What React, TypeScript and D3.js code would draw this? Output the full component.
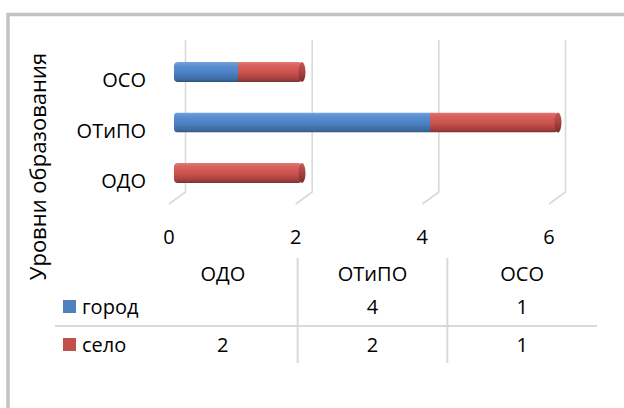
import React from "react";
import * as d3 from "d3";

// Education levels, as listed in the data table (left to right)
const categories = ["ОДО", "ОТиПО", "ОСО"];
// Order of the bars from top to bottom
const barOrder = ["ОСО", "ОТиПО", "ОДО"];
const seriesNames = ["город", "село"];
const cityValues: (number | null)[] = [null, 4, 1];
const villageValues: (number | null)[] = [2, 2, 1];
const xTicks = [0, 2, 4, 6];
const axisTitle = "Уровни образования";

const W = 624;
const H = 408;
const FONT = "'Open Sans', 'Noto Sans', sans-serif";
const GRID = "#d9d9d9";

const seriesColors = {
  город: { base: "#4f81bd", stops: ["#74a4e0", "#5b90d3", "#4b80c4", "#3d6a9f", "#2e5380"] },
  село: { base: "#c0504d", stops: ["#e27874", "#d8625e", "#cb514d", "#9e3e3c", "#7c2f2e"] },
} as Record<string, { base: string; stops: string[] }>;

export default function App() {
  // bar value scale, and the front/back edges of the 3D floor for gridlines
  const xBar = d3.scaleLinear().domain([0, 6]).range([174, 558]);
  const xFront = d3.scaleLinear().domain([0, 6]).range([169, 549]);
  const depthX = 16.5;
  const gridTop = 40;
  const gridBottom = 192;
  const floorY = 204;

  const yBar = d3.scalePoint<string>().domain(barOrder).range([72, 173]);
  const barH = 20;

  const col = d3.scaleBand<string>().domain(categories).range([148, 597]);

  const rows = seriesNames.map((name, si) => ({
    name,
    values: si === 0 ? cityValues : villageValues,
  }));

  const stacks = categories.map((c, ci) => {
    let acc = 0;
    const segs = rows
      .map((r) => {
        const v = r.values[ci];
        if (v == null || v === 0) return null;
        const s = { name: r.name, x0: acc, x1: acc + v };
        acc += v;
        return s;
      })
      .filter(Boolean) as { name: string; x0: number; x1: number }[];
    return { cat: c, segs, total: acc };
  });

  const stopOffsets = [0, 0.18, 0.55, 0.88, 1];

  return (
    <svg
      width={W}
      height={H}
      viewBox={`0 0 ${W} ${H}`}
      style={{ position: "absolute", left: 0, top: 0, background: "#fff" }}
      fontFamily={FONT}
    >
      <defs>
        {seriesNames.map((n, i) => (
          <linearGradient key={n} id={`grad-${i}`} x1="0" y1="0" x2="0" y2="1">
            {seriesColors[n].stops.map((c, k) => (
              <stop key={k} offset={stopOffsets[k]} stopColor={c} />
            ))}
          </linearGradient>
        ))}
        <linearGradient id="cap" x1="0" y1="0" x2="0" y2="1">
          <stop offset="0" stopColor="#c25a56" />
          <stop offset="0.5" stopColor="#a8423f" />
          <stop offset="1" stopColor="#772d2c" />
        </linearGradient>
        {stacks.map((s, i) => (
          <clipPath key={s.cat} id={`clip-${i}`}>
            <rect
              x={xBar(0)}
              y={(yBar(s.cat) as number) - barH / 2}
              width={xBar(s.total) - xBar(0)}
              height={barH}
              rx={4}
            />
          </clipPath>
        ))}
        <filter id="soft" x="-5%" y="-20%" width="110%" height="140%">
          <feGaussianBlur stdDeviation="0.5" />
        </filter>
      </defs>

      {/* outer frame */}
      <rect x={8} y={14.5} width={W + 20} height={H + 20} fill="none" stroke="#c3c3c3" strokeWidth={3.5} />

      {/* 3D gridlines: back wall verticals plus floor diagonal */}
      {xTicks.map((t) => (
        <path
          key={t}
          d={`M${xFront(t) + depthX},${gridTop} L${xFront(t) + depthX},${gridBottom} L${xFront(t)},${floorY}`}
          fill="none"
          stroke={GRID}
          strokeWidth={1.6}
        />
      ))}

      {/* stacked bars */}
      {stacks.map((s, i) => {
        const cy = yBar(s.cat) as number;
        return (
          <g key={s.cat} filter="url(#soft)">
            <g clipPath={`url(#clip-${i})`}>
              {s.segs.map((seg) => (
                <rect
                  key={seg.name}
                  x={xBar(seg.x0)}
                  y={cy - barH / 2}
                  width={xBar(seg.x1) - xBar(seg.x0)}
                  height={barH}
                  fill={`url(#grad-${seriesNames.indexOf(seg.name)})`}
                />
              ))}
            </g>
            <ellipse cx={xBar(s.total)} cy={cy} rx={3.5} ry={barH / 2} fill="url(#cap)" />
          </g>
        );
      })}

      {/* category labels */}
      {barOrder.map((c) => (
        <text
          key={c}
          x={146}
          y={(yBar(c) as number) + 15}
          textAnchor="end"
          fontSize={20}
          fill="#000"
        >
          {c}
        </text>
      ))}

      {/* value axis tick labels */}
      {xTicks.map((t) => (
        <text key={t} x={xFront(t)} y={243.5} textAnchor="middle" fontSize={20} fill="#000">
          {t}
        </text>
      ))}

      {/* axis title */}
      <text
        transform={`translate(45.5,166.5) rotate(-90)`}
        textAnchor="middle"
        fontSize={22}
        fill="#000"
      >
        {axisTitle}
      </text>

      {/* data table */}
      <g>
        {categories.slice(1).map((c) => (
          <line
            key={c}
            x1={col(c) as number}
            x2={col(c) as number}
            y1={258}
            y2={363}
            stroke={GRID}
            strokeWidth={2}
          />
        ))}
        <line x1={55} x2={597} y1={326} y2={326} stroke={GRID} strokeWidth={2} />
        {categories.map((c) => (
          <text
            key={c}
            x={(col(c) as number) + col.bandwidth() / 2}
            y={280.5}
            textAnchor="middle"
            fontSize={20}
            fill="#000"
          >
            {c}
          </text>
        ))}
        {rows.map((r, ri) => {
          const baseline = ri === 0 ? 314 : 352;
          return (
            <g key={r.name}>
              <rect x={63} y={baseline - 14} width={13} height={13} fill={seriesColors[r.name].base} />
              <text x={82} y={baseline} fontSize={20} fill="#000">
                {r.name}
              </text>
              {r.values.map((v, ci) =>
                v == null ? null : (
                  <text
                    key={ci}
                    x={(col(categories[ci]) as number) + col.bandwidth() / 2}
                    y={baseline}
                    textAnchor="middle"
                    fontSize={20}
                    fill="#000"
                  >
                    {v}
                  </text>
                )
              )}
            </g>
          );
        })}
      </g>
    </svg>
  );
}
